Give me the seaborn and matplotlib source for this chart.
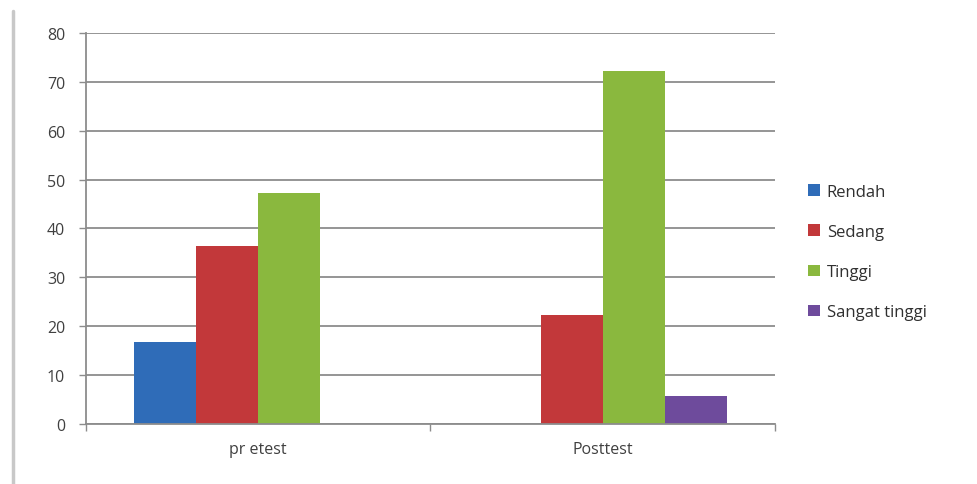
import pandas as pd
import matplotlib.pyplot as plt
import seaborn as sns
from matplotlib.lines import Line2D

# data
tests = ["pr etest", "Posttest"]
levels = ["Rendah", "Sedang", "Tinggi", "Sangat tinggi"]
rendah = [16.7, 0.0]
sedang = [36.4, 22.2]
tinggi = [47.2, 72.2]
sangat_tinggi = [0.0, 5.6]
y_ticks = [0, 10, 20, 30, 40, 50, 60, 70, 80]

colors = ["#2f6cb8", "#c2383a", "#8ab83e", "#6e4b9c"]


def main():
    rows = []
    for lvl, vals in zip(levels, [rendah, sedang, tinggi, sangat_tinggi]):
        for t, v in zip(tests, vals):
            rows.append({"test": t, "level": lvl, "value": v})
    df = pd.DataFrame(rows)

    sns.set_theme(style="white")
    plt.rcParams["font.family"] = ["Open Sans", "DejaVu Sans"]

    fig = plt.figure(figsize=(9.77, 4.85), dpi=100)
    ax = fig.add_axes([0.088, 0.124, 0.705, 0.806])

    sns.barplot(
        data=df, x="test", y="value", hue="level",
        order=tests, hue_order=levels, palette=colors,
        width=0.72, saturation=1, linewidth=0, ax=ax, legend=True,
    )

    ax.set_ylim(0, 80)
    ax.set_xlim(-0.5, 1.5)
    ax.set_yticks(y_ticks)
    ax.set_xlabel("")
    ax.set_ylabel("")
    ax.set_axisbelow(True)
    ax.yaxis.grid(True, color="#8c8c8c", linewidth=1.3)
    ax.xaxis.grid(False)

    for side in ["top", "right"]:
        ax.spines[side].set_visible(False)
    for side in ["left", "bottom"]:
        ax.spines[side].set_color("#8c8c8c")
        ax.spines[side].set_linewidth(1.3)

    ax.tick_params(axis="y", which="major", left=True, length=5, width=1,
                   color="#8c8c8c", labelsize=11.5, labelcolor="#404040", pad=10)
    ax.tick_params(axis="x", which="major", bottom=False, labelsize=11.5,
                   labelcolor="#404040", pad=6)
    ax.set_xticks([-0.5, 0.5, 1.5], minor=True)
    ax.tick_params(axis="x", which="minor", bottom=True, length=5, width=1,
                   color="#8c8c8c")

    handles, labels = ax.get_legend_handles_labels()
    ax.legend_.remove()
    fig.legend(
        handles, labels, loc="center left", bbox_to_anchor=(0.812, 0.478),
        frameon=False, fontsize=12, handlelength=0.7, handleheight=0.7,
        handletextpad=0.4, labelspacing=1.45, labelcolor="#303030",
    )

    # left border of the original screenshot
    fig.add_artist(Line2D([0.013, 0.013], [0.0, 0.975], color="#c8c8c8",
                          linewidth=2.5, transform=fig.transFigure))

    fig.savefig("out.png", dpi=100, facecolor="white")
    plt.close(fig)


if __name__ == "__main__":
    main()
